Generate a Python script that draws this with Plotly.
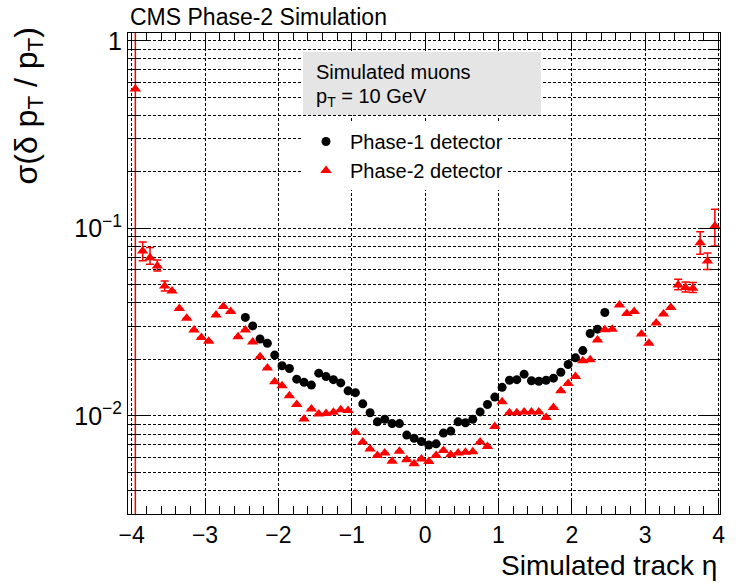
import math
import plotly.graph_objects as go

# ---------------- data ----------------
phase1_eta = [-2.45, -2.35, -2.25, -2.15, -2.05, -1.95, -1.85, -1.75, -1.65, -1.55,
              -1.45, -1.35, -1.25, -1.15, -1.05, -0.95, -0.85, -0.75, -0.65, -0.55,
              -0.45, -0.35, -0.25, -0.15, -0.05, 0.05, 0.15, 0.25, 0.35, 0.45,
              0.55, 0.65, 0.75, 0.85, 0.95, 1.05, 1.15, 1.25, 1.35, 1.45,
              1.55, 1.65, 1.75, 1.85, 1.95, 2.05, 2.15, 2.25, 2.35, 2.45]
phase1_res = [0.0335, 0.0302, 0.0257, 0.0244, 0.0211, 0.0185, 0.0179, 0.0157, 0.0151, 0.0146,
              0.0169, 0.0162, 0.0156, 0.0150, 0.0136, 0.0133, 0.0116, 0.0104, 0.0093, 0.0096,
              0.0091, 0.0091, 0.0079, 0.0076, 0.0073, 0.0070, 0.0071, 0.0081, 0.0083, 0.0093,
              0.0092, 0.0096, 0.0105, 0.0115, 0.0126, 0.0142, 0.0155, 0.0156, 0.0167, 0.0154,
              0.0153, 0.0155, 0.0159, 0.0171, 0.0188, 0.0204, 0.0223, 0.0275, 0.0290, 0.0356]

phase2_eta = [-3.95, -3.85, -3.75, -3.65, -3.55, -3.45, -3.35, -3.25, -3.15, -3.05,
              -2.95, -2.85, -2.75, -2.65, -2.55, -2.45, -2.35, -2.25, -2.15, -2.05,
              -1.95, -1.85, -1.75, -1.65, -1.55, -1.45, -1.35, -1.25, -1.15, -1.05,
              -0.95, -0.85, -0.75, -0.65, -0.55, -0.45, -0.35, -0.25, -0.15, -0.05,
              0.05, 0.15, 0.25, 0.35, 0.45, 0.55, 0.65, 0.75, 0.85, 0.95,
              1.05, 1.15, 1.25, 1.35, 1.45, 1.55, 1.65, 1.75, 1.85, 1.95,
              2.05, 2.15, 2.25, 2.35, 2.45, 2.55, 2.65, 2.75, 2.85, 2.95,
              3.05, 3.15, 3.25, 3.35, 3.45, 3.55, 3.65, 3.75, 3.85, 3.95]
phase2_res = [0.553, 0.0757, 0.0698, 0.0630, 0.0493, 0.0464, 0.0374, 0.0332, 0.0287, 0.0262,
              0.0250, 0.0345, 0.0383, 0.0360, 0.0264, 0.0287, 0.0248, 0.0207, 0.0180, 0.0152,
              0.0145, 0.0128, 0.0115, 0.00964, 0.0109, 0.01025, 0.0103, 0.01046, 0.0108, 0.0107,
              0.00819, 0.00725, 0.00667, 0.00615, 0.00635, 0.00574, 0.00649, 0.00583, 0.00556, 0.0059,
              0.00571, 0.00615, 0.00654, 0.0062, 0.00635, 0.0064, 0.00645, 0.00725, 0.00687, 0.00877,
              0.0119, 0.0104, 0.0104, 0.0105, 0.0105, 0.0105, 0.0098, 0.0111, 0.01364, 0.0149,
              0.0162, 0.0197, 0.0199, 0.0254, 0.0288, 0.0290, 0.0390, 0.0352, 0.0360, 0.0273,
              0.0244, 0.0313, 0.0349, 0.0379, 0.0499, 0.0484, 0.0480, 0.0839, 0.0670, 0.1028]
phase2_err_up = [4.45, 0.0089, 0.0092, 0.0048, 0.0031, 0, 0, 0, 0, 0,
                 0, 0, 0, 0, 0, 0, 0, 0, 0, 0,
                 0, 0, 0, 0, 0, 0, 0, 0, 0, 0,
                 0, 0, 0, 0, 0, 0, 0, 0, 0, 0,
                 0, 0, 0, 0, 0, 0, 0, 0, 0, 0,
                 0, 0, 0, 0, 0, 0, 0, 0, 0, 0,
                 0, 0, 0, 0, 0, 0, 0, 0, 0, 0,
                 0, 0, 0, 0, 0.0036, 0.0033, 0.0035, 0.0119, 0.0069, 0.0237]
phase2_err_dn = [0.552, 0.0086, 0.0054, 0.0038, 0.0029, 0, 0, 0, 0, 0,
                 0, 0, 0, 0, 0, 0, 0, 0, 0, 0,
                 0, 0, 0, 0, 0, 0, 0, 0, 0, 0,
                 0, 0, 0, 0, 0, 0, 0, 0, 0, 0,
                 0, 0, 0, 0, 0, 0, 0, 0, 0, 0,
                 0, 0, 0, 0, 0, 0, 0, 0, 0, 0,
                 0, 0, 0, 0, 0, 0, 0, 0, 0, 0,
                 0, 0, 0, 0, 0.0029, 0.0026, 0.0025, 0.0112, 0.0066, 0.0222]

x_tick_vals = [-4, -3, -2, -1, 0, 1, 2, 3, 4]
x_tick_text = ["\u22124", "\u22123", "\u22122", "\u22121", "0", "1", "2", "3", "4"]
y_tick_vals = [0.01, 0.1, 1]
y_tick_text = ["10<sup>\u22122</sup>", "10<sup>\u22121</sup>", "1"]
y_minor_vals = [0.003, 0.004, 0.005, 0.006, 0.007, 0.008, 0.009,
                0.02, 0.03, 0.04, 0.05, 0.06, 0.07, 0.08, 0.09,
                0.2, 0.3, 0.4, 0.5, 0.6, 0.7, 0.8, 0.9]

FONT = "Liberation Sans, Arial, Helvetica, sans-serif"

# ---------------- figure ----------------
W, H = 736, 583
L, R, T, B = 128, 16, 33, 69
PW, PH = W - L - R, H - T - B


def px_x(p):
    return (p - L) / PW


def px_y(p):
    return (H - B - p) / PH


fig = go.Figure()
fig.add_trace(go.Scatter(
    x=phase1_eta, y=phase1_res, mode="markers", name="Phase-1 detector",
    marker=dict(symbol="circle", size=9, color="black"),
))
fig.add_trace(go.Scatter(
    x=phase2_eta, y=phase2_res, mode="markers", name="Phase-2 detector",
    marker=dict(symbol="triangle-up", size=10, color="#ff0000"),
    error_y=dict(type="data", symmetric=False, array=phase2_err_up,
                 arrayminus=phase2_err_dn, color="#ff0000", thickness=1.5, width=4),
))

grid_dash = "3px,2px"
fig.update_xaxes(
    range=[-4.05, 4.02], showline=True, linecolor="black", linewidth=1,
    mirror="allticks", ticks="inside", ticklen=15, tickwidth=1, tickcolor="black",
    tickmode="array", tickvals=x_tick_vals, ticktext=x_tick_text,
    showgrid=True, gridcolor="black", griddash=grid_dash, gridwidth=1,
    zeroline=False,
    minor=dict(dtick=0.2, tick0=0, ticks="inside", ticklen=8, tickcolor="black",
               tickwidth=1, showgrid=False),
    tickfont=dict(family=FONT, size=23, color="black"),
    ticklabelstandoff=0,
)
fig.update_yaxes(
    type="log", range=[math.log10(0.003), math.log10(1.1)],
    showline=True, linecolor="black", linewidth=1,
    mirror="allticks", ticks="inside", ticklen=20, tickwidth=1, tickcolor="black",
    tickmode="array", tickvals=y_tick_vals, ticktext=y_tick_text,
    showgrid=True, gridcolor="black", griddash=grid_dash, gridwidth=1,
    zeroline=False,
    minor=dict(tickmode="array", tickvals=y_minor_vals, ticks="inside", ticklen=10,
               tickcolor="black", tickwidth=1, showgrid=True, gridcolor="black",
               griddash=grid_dash, gridwidth=1),
    tickfont=dict(family=FONT, size=25, color="black"),
)

# grey info box
fig.add_shape(type="rect", xref="paper", yref="paper",
              x0=px_x(303), x1=px_x(541), y0=px_y(115), y1=px_y(52),
              fillcolor="#e5e5e5", line=dict(width=0), layer="above")

annos = [
    dict(text="CMS Phase-2 Simulation", x=px_x(128), y=px_y(17), xanchor="left",
         yanchor="middle", font=dict(size=23)),
    dict(text="Simulated muons", x=px_x(314), y=px_y(72), xanchor="left",
         yanchor="middle", font=dict(size=20)),
    dict(text="p<sub>T</sub> = 10 GeV", x=px_x(314), y=px_y(98), xanchor="left",
         yanchor="middle", font=dict(size=20)),
    dict(text="Simulated track \u03b7", x=px_x(719), y=px_y(583), xanchor="right",
         yanchor="bottom", font=dict(size=28)),
    dict(text="\u03c3(\u03b4 p<sub>T</sub> / p<sub>T</sub>)", x=px_x(28), y=px_y(26),
         xanchor="center", yanchor="top", textangle=-90, font=dict(size=32)),
]
for a in annos:
    a["font"]["family"] = FONT
    a["font"]["color"] = "black"
    fig.add_annotation(xref="paper", yref="paper", showarrow=False, **a)

fig.update_layout(
    width=W, height=H, margin=dict(l=L, r=R, t=T, b=B, pad=0),
    paper_bgcolor="white", plot_bgcolor="white",
    font=dict(family=FONT, color="black"),
    showlegend=True,
    legend=dict(x=px_x(302), y=px_y(122), xanchor="left", yanchor="top",
                bgcolor="white", borderwidth=0, font=dict(size=20, family=FONT),
                itemwidth=38, tracegroupgap=0),
)

fig.write_html("out.html")
